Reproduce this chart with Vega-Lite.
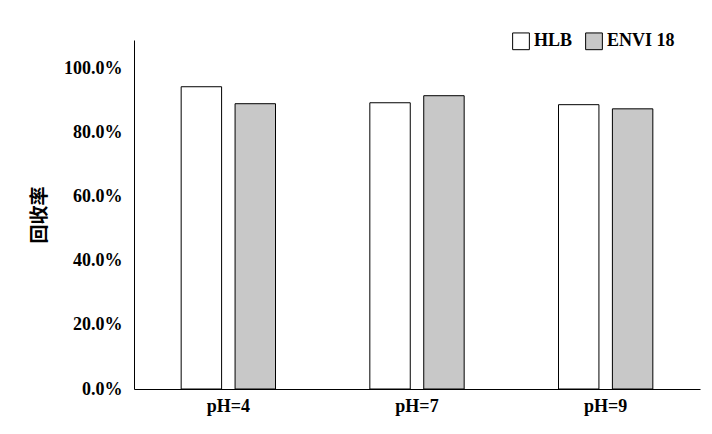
{
"$schema":"https://vega.github.io/schema/vega-lite/v6.json",
"width":566,"height":349,
"autosize":{"type":"none"},
"padding":{"left":134,"top":40,"right":12,"bottom":45},
"background":"white",
"data":{"values":[
{"ph":"pH=4","s":"HLB","v":0.944},{"ph":"pH=4","s":"ENVI 18","v":0.891},
{"ph":"pH=7","s":"HLB","v":0.894},{"ph":"pH=7","s":"ENVI 18","v":0.916},
{"ph":"pH=9","s":"HLB","v":0.888},{"ph":"pH=9","s":"ENVI 18","v":0.875}]},
"mark":{"type":"bar","stroke":"black","strokeWidth":1},
"encoding":{
"x":{"field":"ph","type":"nominal","sort":null,"scale":{"paddingInner":0.5,"paddingOuter":0.25},
 "axis":{"title":null,"labelAngle":0,"ticks":false,"labelFont":"Liberation Serif","labelFontWeight":"bold","labelFontSize":18,"labelColor":"black","domainColor":"black","labelPadding":8}},
"xOffset":{"field":"s","type":"nominal","sort":["HLB","ENVI 18"],"scale":{"paddingInner":0.25}},
"y":{"field":"v","type":"quantitative","scale":{"domain":[0,1.09],"nice":false},
 "axis":{"title":"回收率","titleFont":"Noto Sans CJK SC","titleFontSize":19,"titleFontWeight":"bold","titleColor":"black","titlePadding":14,"values":[0,0.2,0.4,0.6,0.8,1.0],"format":".1%","grid":false,"ticks":false,"labelFont":"Liberation Serif","labelFontWeight":"bold","labelFontSize":18,"labelColor":"black","domainColor":"black","labelPadding":12}},
"fill":{"field":"s","type":"nominal","sort":["HLB","ENVI 18"],"scale":{"range":["white","#c8c8c8"]},
 "legend":{"title":null,"orient":"none","legendX":378,"legendY":-8,"direction":"horizontal","symbolType":"square","symbolSize":280,"symbolStrokeColor":"black","symbolStrokeWidth":1,"labelFont":"Liberation Serif","labelFontWeight":"bold","labelFontSize":18,"labelColor":"black","columnPadding":10}}
},
"config":{"view":{"stroke":null}}
}
